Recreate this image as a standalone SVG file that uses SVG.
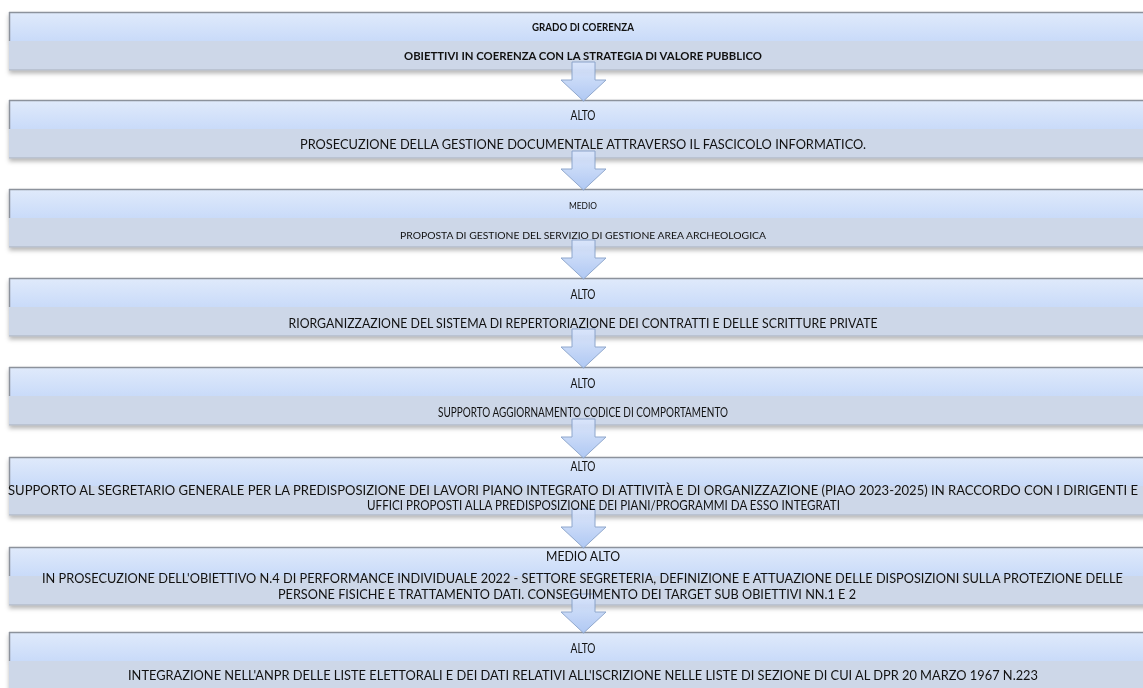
<svg xmlns="http://www.w3.org/2000/svg" width="1143" height="688" viewBox="0 0 1143 688">
<style>
.up{fill:url(#gUp)}
.lo{fill:#cdd7e8}
.edge{stroke:#8c929c;stroke-width:1.5;fill:none}
.bot{stroke:#a7afbb;stroke-width:1.2;fill:none}
.arr{fill:url(#gArr);stroke:#86a0c8;stroke-width:1}
text{font-family:Lato,"Open Sans","Liberation Sans",sans-serif;font-size:13px;fill:#111;text-anchor:middle}
.lab{font-size:12.5px}
.b{font-weight:bold;font-size:12px}
.s{font-size:10px}
.l{text-anchor:start}
</style>
<defs>
<linearGradient id="gUp" x1="0" y1="0" x2="0" y2="1">
<stop offset="0" stop-color="#e0eafb"/>
<stop offset="1" stop-color="#c9dbf9"/>
</linearGradient>
<linearGradient id="gArr" x1="0" y1="0" x2="0" y2="1">
<stop offset="0" stop-color="#dbe6fb"/>
<stop offset="1" stop-color="#a9c4f3"/>
</linearGradient>
<filter id="sh" x="-2%" y="-20%" width="104%" height="150%">
<feDropShadow dx="0" dy="3" stdDeviation="2" flood-color="#000" flood-opacity="0.28"/>
</filter>
<g id="box">
<rect x="9" y="0" width="1145" height="29" class="up"/>
<rect x="9" y="29" width="1145" height="29" class="lo"/>
<line x1="9" y1="0.5" x2="1154" y2="0.5" class="edge"/>
<line x1="9.5" y1="0" x2="9.5" y2="29" class="edge"/>
<line x1="9" y1="58" x2="1154" y2="58" class="bot"/>
</g>
<path id="arrow" d="M572,-8 H595 V10 H606 L583.5,31 L561,10 H572 Z"/>
</defs>

<g id="boxes" filter="url(#sh)">
<use href="#box" y="12"/>
<use href="#box" y="100"/>
<use href="#box" y="189"/>
<use href="#box" y="278"/>
<use href="#box" y="367"/>
<use href="#box" y="457"/>
<use href="#box" y="547"/>
<use href="#box" y="632"/>
</g>

<g id="connectors" opacity="0.92">
<use href="#arrow" class="arr" y="70"/>
<use href="#arrow" class="arr" y="159"/>
<use href="#arrow" class="arr" y="248"/>
<use href="#arrow" class="arr" y="337"/>
<use href="#arrow" class="arr" y="427"/>
<use href="#arrow" class="arr" y="517"/>
<use href="#arrow" class="arr" y="602"/>
</g>

<g id="n1">
<text class="b" x="583" y="31" textLength="102" lengthAdjust="spacingAndGlyphs">GRADO DI COERENZA</text>
<text class="b" x="583" y="60" textLength="358" lengthAdjust="spacingAndGlyphs">OBIETTIVI IN COERENZA CON LA STRATEGIA DI VALORE PUBBLICO</text>
</g>
<g id="n2">
<text class="lab" x="583" y="120" textLength="25" lengthAdjust="spacingAndGlyphs">ALTO</text>
<text x="583" y="149" textLength="566" lengthAdjust="spacingAndGlyphs">PROSECUZIONE DELLA GESTIONE DOCUMENTALE ATTRAVERSO IL FASCICOLO INFORMATICO.</text>
</g>
<g id="n3">
<text class="s" x="583" y="209" textLength="28" lengthAdjust="spacingAndGlyphs">MEDIO</text>
<text class="s" x="583" y="239" textLength="366" lengthAdjust="spacingAndGlyphs">PROPOSTA DI GESTIONE DEL SERVIZIO DI GESTIONE AREA ARCHEOLOGICA</text>
</g>
<g id="n4">
<text class="lab" x="583" y="299" textLength="25" lengthAdjust="spacingAndGlyphs">ALTO</text>
<text x="583" y="328" textLength="589" lengthAdjust="spacingAndGlyphs">RIORGANIZZAZIONE DEL SISTEMA DI REPERTORIAZIONE DEI CONTRATTI E DELLE SCRITTURE PRIVATE</text>
</g>
<g id="n5">
<text class="lab" x="583" y="388" textLength="25" lengthAdjust="spacingAndGlyphs">ALTO</text>
<text x="583" y="417" textLength="290" lengthAdjust="spacingAndGlyphs">SUPPORTO AGGIORNAMENTO CODICE DI COMPORTAMENTO</text>
</g>
<g id="n6">
<text class="lab" x="583" y="471" textLength="25" lengthAdjust="spacingAndGlyphs">ALTO</text>
<text class="l" x="8" y="495" textLength="1130" lengthAdjust="spacingAndGlyphs">SUPPORTO AL SEGRETARIO GENERALE PER LA PREDISPOSIZIONE DEI LAVORI PIANO INTEGRATO DI ATTIVITÀ E DI ORGANIZZAZIONE (PIAO 2023-2025) IN RACCORDO CON I DIRIGENTI E</text>
<text class="l" x="367" y="510" textLength="473" lengthAdjust="spacingAndGlyphs">UFFICI PROPOSTI ALLA PREDISPOSIZIONE DEI PIANI/PROGRAMMI DA ESSO INTEGRATI</text>
</g>
<g id="n7">
<text class="lab" x="583" y="561" textLength="74" lengthAdjust="spacingAndGlyphs">MEDIO ALTO</text>
<text class="l" x="42" y="583" textLength="1081" lengthAdjust="spacingAndGlyphs">IN PROSECUZIONE DELL'OBIETTIVO N.4 DI PERFORMANCE INDIVIDUALE 2022 - SETTORE SEGRETERIA, DEFINIZIONE E ATTUAZIONE DELLE DISPOSIZIONI SULLA PROTEZIONE DELLE</text>
<text class="l" x="278" y="599" textLength="578" lengthAdjust="spacingAndGlyphs">PERSONE FISICHE E TRATTAMENTO DATI. CONSEGUIMENTO DEI TARGET SUB OBIETTIVI NN.1 E 2</text>
</g>
<g id="n8">
<text class="lab" x="583" y="653" textLength="25" lengthAdjust="spacingAndGlyphs">ALTO</text>
<text class="l" x="128" y="680" textLength="910" lengthAdjust="spacingAndGlyphs">INTEGRAZIONE NELL'ANPR DELLE LISTE ELETTORALI E DEI DATI RELATIVI ALL'ISCRIZIONE NELLE LISTE DI SEZIONE DI CUI AL DPR 20 MARZO 1967 N.223</text>
</g>
</svg>
